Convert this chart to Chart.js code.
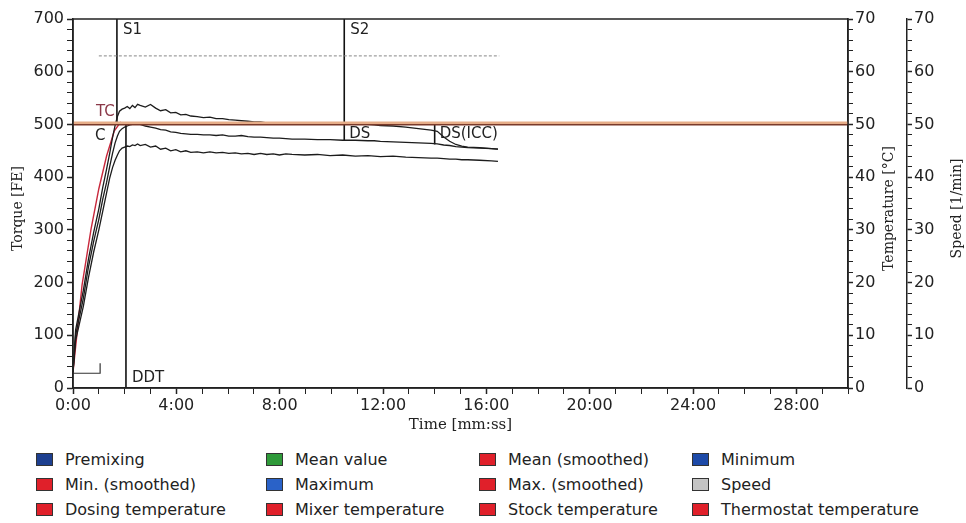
<!DOCTYPE html>
<html>
<head>
<meta charset="utf-8">
<script src="https://cdn.jsdelivr.net/npm/chart.js@4.4.1/dist/chart.umd.min.js"></script>
<style>
  html, body { margin: 0; padding: 0; background: #fff; }
  #wrap { position: relative; width: 966px; height: 523px; }
  #c { position: absolute; left: 0; top: 0; }
  .lg { position: absolute; font: 16px 'DejaVu Sans', sans-serif; color: #222; white-space: nowrap; }
  .lg i { display: inline-block; width: 15px; height: 11px; border: 1px solid #333; margin-right: 12px; vertical-align: -1px; }
</style>
</head>
<body>
<div id="wrap">
  <canvas id="c" width="966" height="440"></canvas>
</div>
<script>
/* ---- data (time in minutes, torque in FE) ---- */
var TIME = [0, 0.1, 0.4, 0.6, 0.8, 1.0, 1.15, 1.3, 1.42, 1.53, 1.63, 1.72, 1.8, 1.9, 2.0, 2.1, 2.2, 2.3, 2.4, 2.5,
            2.6, 2.8, 3.0, 3.2, 3.39, 3.59, 3.78, 3.98, 4.17, 4.37, 4.56, 4.81, 5.05, 5.3, 5.54, 5.79, 6.03, 6.28,
            6.52, 6.77, 7.01, 7.26, 7.5, 7.75, 7.99, 8.24, 8.48, 8.97, 9.46, 9.95, 10.44, 10.93, 11.42, 11.66, 11.9,
            12.39, 12.88, 13.37, 13.86, 14.1, 14.35, 14.58, 14.82, 15.05, 15.28, 15.74, 16.2, 16.45];
var MAX_FE = [30, 110, 185, 245, 295, 340, 380, 415, 445, 475, 498, 515, 525, 529, 531, 534, 530, 536, 532, 538,
              536, 533, 538, 531, 526, 528, 522, 523, 518, 519, 516, 515, 513, 514, 511, 511, 509, 508,
              507, 506, 505, 505, 503, 503, 502, 501, 500, 501, 500, 500, 501, 500, 500, 499, 498,
              497, 495, 492, 489, 487, 476, 468, 462, 459, 457, 456, 454, 453];
var MEAN_FE = [30, 100, 170, 230, 278, 320, 358, 390, 420, 445, 465, 478, 487, 492, 495, 497, 499, 500, 501, 500,
               500, 497, 495, 493, 490, 489, 486, 485, 483, 482, 481, 481, 480, 480, 479, 480, 478, 478,
               479, 477, 476, 476, 475, 474, 474, 473, 472, 472, 471, 471, 470, 470, 469, 469, 468,
               467, 466, 465, 464, 463, 461, 460, 458, 457, 456, 455, 454, 453];
var MIN_FE = [30, 90, 155, 210, 258, 300, 335, 370, 398, 418, 432, 442, 450, 455, 457, 459, 458, 461, 460, 463,
              460, 462, 457, 459, 453, 455, 450, 452, 448, 450, 447, 448, 446, 448, 446, 447, 445, 446,
              444, 445, 443, 445, 443, 444, 442, 444, 443, 442, 443, 441, 442, 440, 441, 440, 439,
              440, 438, 437, 436, 436, 435, 434, 434, 433, 433, 432, 431, 430];

// smoothed (red) trace, only visible on the rising part
var SMOOTH_TIME = [0, 0.35, 0.7, 1.0, 1.3, 1.6, 1.85];
var SMOOTH_FE = [30, 195, 302, 378, 440, 488, 505];

// temperature [°C] and speed [1/min]
var TEMP_TIME = [0, 30];
var THERMOSTAT_C = [50, 50];
var MIXER_C = [50.3, 50.3];
var SPEED_TIME = [1.0, 16.5];
var SPEED_RPM = [63, 63];

// premixing bracket
var PREMIX_TIME = [0, 1.05, 1.05];
var PREMIX_FE = [28, 28, 47];

// evaluation markers
var MARK_NAMES = ['S1', 'DDT', 'S2', 'DS', 'DS(ICC)'];
var MARK_TIME = [1.7, 2.05, 10.5, 10.5, 14.0];
var MARK_FROM = [500, 0, 500, 470, 462];
var MARK_TO = [700, 500, 700, 500, 500];

var LEGEND_LABELS = ['Premixing', 'Mean value', 'Mean (smoothed)', 'Minimum',
                     'Min. (smoothed)', 'Maximum', 'Max. (smoothed)', 'Speed',
                     'Dosing temperature', 'Mixer temperature', 'Stock temperature', 'Thermostat temperature'];
var LEGEND_COLORS = ['#1d3f8f', '#2f9a3a', '#e0202a', '#1d4aa8',
                     '#e0202a', '#2a62c8', '#e0202a', '#c4c4c4',
                     '#e0202a', '#e0202a', '#e0202a', '#e0202a'];

var FONT = "'DejaVu Sans', sans-serif";
var SERIF = "'DejaVu Serif', serif";
var INK = '#222';

function pts(xs, ys) {
    return xs.map(function (x, i) { return { x: x, y: ys[i] }; });
}

function line(label, data, color, width, axis, extra) {
    var d = {
        label: label, data: data, borderColor: color, borderWidth: width,
        pointRadius: 0, tension: 0, fill: false, yAxisID: axis || 'y'
    };
    for (var k in extra) d[k] = extra[k];
    return d;
}

var datasets = [
    line('Mixer temperature', pts(TEMP_TIME, MIXER_C), '#e6ad88', 2.5, 'yT'),
    line('Thermostat temperature', pts(TEMP_TIME, THERMOSTAT_C), '#7a3a2a', 2.2, 'yT'),
    line('Speed', pts(SPEED_TIME, SPEED_RPM), '#888', 1, 'yS', { borderDash: [3, 2] }),
    line('Maximum', pts(TIME, MAX_FE), '#1c1c1c', 1.3),
    line('Mean value', pts(TIME, MEAN_FE), '#1c1c1c', 1.3),
    line('Minimum', pts(TIME, MIN_FE), '#1c1c1c', 1.3),
    line('Mean (smoothed)', pts(SMOOTH_TIME, SMOOTH_FE), '#c8283c', 1.4),
    line('Premixing', pts(PREMIX_TIME, PREMIX_FE), '#333', 1.2)
];
MARK_NAMES.forEach(function (n, i) {
    datasets.push(line(n, [{ x: MARK_TIME[i], y: MARK_FROM[i] }, { x: MARK_TIME[i], y: MARK_TO[i] }], '#111', 1.6));
});

/* marker texts, axis titles and frame */
var decor = {
    id: 'decor',
    afterDatasetsDraw: function (chart) {
        var ctx = chart.ctx, a = chart.chartArea;
        var x = chart.scales.x, y = chart.scales.y;
        ctx.save();
        ctx.strokeStyle = INK;
        ctx.lineWidth = 1.5;
        ctx.strokeRect(a.left, a.top, a.right - a.left, a.bottom - a.top);

        ctx.font = '15px ' + FONT;
        ctx.fillStyle = INK;
        ctx.textBaseline = 'middle';
        ctx.textAlign = 'left';
        ctx.fillText('S1', x.getPixelForValue(MARK_TIME[0]) + 6, y.getPixelForValue(700) + 11);
        ctx.fillText('S2', x.getPixelForValue(MARK_TIME[2]) + 6, y.getPixelForValue(700) + 11);
        ctx.fillText('DS', x.getPixelForValue(MARK_TIME[3]) + 5, y.getPixelForValue(500) + 10);
        ctx.fillText('DS(ICC)', x.getPixelForValue(MARK_TIME[4]) + 5, y.getPixelForValue(500) + 10);
        ctx.fillText('DDT', x.getPixelForValue(MARK_TIME[1]) + 6, y.getPixelForValue(0) - 10);
        ctx.fillText('C', x.getPixelForValue(0) + 22, y.getPixelForValue(500) + 12);
        ctx.fillStyle = '#8a3848';
        ctx.fillText('TC', x.getPixelForValue(0) + 23, y.getPixelForValue(500) - 12);

        ctx.fillStyle = INK;
        ctx.font = '15px ' + SERIF;
        ctx.textAlign = 'center';
        ctx.fillText('Time [mm:ss]', (a.left + a.right) / 2, 425);
        ctx.font = '14px ' + SERIF;
        var mid = (a.top + a.bottom) / 2 + 5;
        [[18, 'Torque [FE]'], [889, 'Temperature [°C]'], [957, 'Speed [1/min]']].forEach(function (t) {
            ctx.save();
            ctx.translate(t[0], mid);
            ctx.rotate(-Math.PI / 2);
            ctx.fillText(t[1], 0, 0);
            ctx.restore();
        });
        ctx.restore();
    }
};

function tickAxis(pos, max, step, major, width, fmt) {
    return {
        type: 'linear', position: pos, min: 0, max: max,
        afterFit: function (s) { if (pos === 'bottom') s.height = width; else s.width = width; },
        border: { display: true, color: INK, width: 1.5 },
        grid: {
            display: true, drawOnChartArea: false, drawTicks: true, tickLength: 6,
            tickColor: INK,
            tickWidth: function (c) { return c.tick && c.tick.value % major === 0 ? 1.5 : 1; }
        },
        ticks: {
            stepSize: step, autoSkip: false, maxRotation: 0, color: INK, padding: 3,
            font: { family: FONT, size: 16 },
            callback: function (v) { return v % major === 0 ? fmt(v) : ''; }
        }
    };
}

var ident = function (v) { return String(v); };
var scales = {
    x: tickAxis('bottom', 30, 1, 4, 52, function (v) { return v + ':00'; }),
    y: tickAxis('left', 700, 20, 100, 73, ident),
    yT: tickAxis('right', 70, 2, 10, 59, ident),
    yS: tickAxis('right', 70, 2, 10, 59, ident)
};
scales.x.ticks.padding = 2;
scales.yT.grid.tickLength = 5;
scales.yT.ticks.padding = 2;
scales.yS.grid.tickLength = 5;
scales.yS.ticks.padding = 2;

new Chart(document.getElementById('c'), {
    type: 'line',
    data: { datasets: datasets },
    options: {
        responsive: false,
        animation: false,
        layout: { padding: { top: 19, left: 0, right: 0, bottom: 0 } },
        plugins: { legend: { display: false }, tooltip: { enabled: false } },
        scales: scales
    },
    plugins: [decor]
});

/* legend below the chart, 4 columns x 3 rows */
var COLS = [36, 266, 479, 692];
var wrap = document.getElementById('wrap');
LEGEND_LABELS.forEach(function (lab, i) {
    var el = document.createElement('div');
    el.className = 'lg';
    el.style.left = COLS[i % 4] + 'px';
    el.style.top = (450 + Math.floor(i / 4) * 25) + 'px';
    el.innerHTML = '<i style="background:' + LEGEND_COLORS[i] + '"></i>' + lab;
    wrap.appendChild(el);
});
</script>
</body>
</html>
